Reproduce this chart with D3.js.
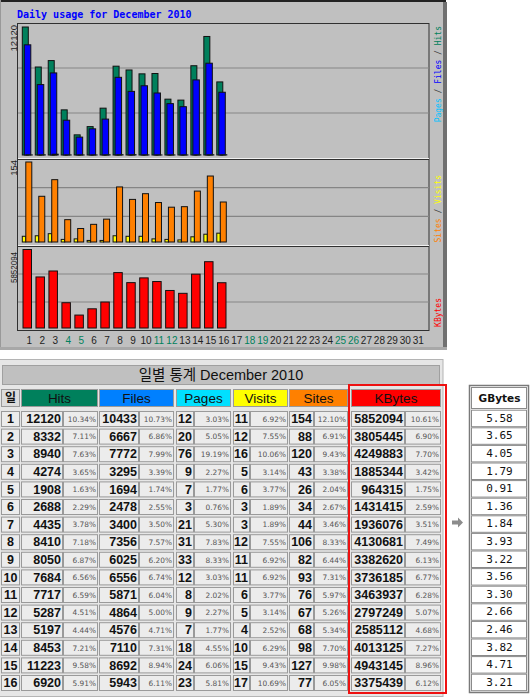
<!DOCTYPE html>
<html><head><meta charset="utf-8">
<script src="https://cdn.jsdelivr.net/npm/d3@7"></script>
<style>body{margin:0;background:#fff}svg{display:block}</style>
</head><body>
<script>
const days = d3.range(1, 17);
const allDays = d3.range(1, 32);
const weekendDays = [4, 5, 11, 12, 18, 19, 25, 26];
const hits = [12120,8332,8940,4274,1908,2688,4435,8410,8050,7684,7717,5287,5197,8453,11223,6920];
const hitsPct = ["10.34%","7.11%","7.63%","3.65%","1.63%","2.29%","3.78%","7.18%","6.87%","6.56%","6.59%","4.51%","4.44%","7.21%","9.58%","5.91%"];
const files = [10433,6667,7772,3295,1694,2478,3400,7356,6025,6556,5871,4864,4576,7110,8692,5943];
const filesPct = ["10.73%","6.86%","7.99%","3.39%","1.74%","2.55%","3.50%","7.57%","6.20%","6.74%","6.04%","5.00%","4.71%","7.31%","8.94%","6.11%"];
const pages = [12,20,76,9,7,3,21,31,33,12,8,9,7,18,24,23];
const pagesPct = ["3.03%","5.05%","19.19%","2.27%","1.77%","0.76%","5.30%","7.83%","8.33%","3.03%","2.02%","2.27%","1.77%","4.55%","6.06%","5.81%"];
const visits = [11,12,16,5,6,3,3,12,11,11,6,5,4,10,15,17];
const visitsPct = ["6.92%","7.55%","10.06%","3.14%","3.77%","1.89%","1.89%","7.55%","6.92%","6.92%","3.77%","3.14%","2.52%","6.29%","9.43%","10.69%"];
const sites = [154,88,120,43,26,34,44,106,82,93,76,67,68,98,127,77];
const sitesPct = ["12.10%","6.91%","9.43%","3.38%","2.04%","2.67%","3.46%","8.33%","6.44%","7.31%","5.97%","5.26%","5.34%","7.70%","9.98%","6.05%"];
const kbytes = [5852094,3805445,4249883,1885344,964315,1431415,1936076,4130681,3382620,3736185,3463937,2797249,2585112,4013125,4943145,3375439];
const kbPct = ["10.61%","6.90%","7.70%","3.42%","1.75%","2.59%","3.51%","7.49%","6.13%","6.77%","6.28%","5.07%","4.68%","7.27%","8.96%","6.12%"];
const gbytes = ["5.58","3.65","4.05","1.79","0.91","1.36","1.84","3.93","3.22","3.56","3.30","2.66","2.46","3.82","4.71","3.21"];
const chartTitle = "Daily usage for December 2010";
const tableTitle = "일별 통계 December 2010";
const dayHeader = "일";
const headers = ["Hits","Files","Pages","Visits","Sites","KBytes"];

const C = {hits:"#00805c", files:"#0000ff", pages:"#00c0ff", visits:"#ffff00", sites:"#ff8000", kb:"#ff0000"};

const svg = d3.select("body").append("svg").attr("width",532).attr("height",698);

// ---------- chart panel ----------
svg.append("rect").attr("x",0).attr("y",0).attr("width",446).attr("height",349).attr("fill","#c0c0c0");
svg.append("line").attr("x1",0).attr("x2",446).attr("y1",1).attr("y2",1).attr("stroke","#222").attr("stroke-width",2);
svg.append("line").attr("x1",0.5).attr("x2",0.5).attr("y1",0).attr("y2",349).attr("stroke","#999");
svg.append("rect").attr("x",443).attr("y",2).attr("width",4).attr("height",347).attr("fill","#707070");
svg.append("rect").attr("x",0).attr("y",347).attr("width",447).attr("height",3).attr("fill","#a8a8a8");

svg.append("text").attr("x",17).attr("y",17.5).text(chartTitle)
  .attr("font-family","DejaVu Sans Mono").attr("font-weight","bold").attr("font-size",10).attr("fill","#0000ff");

const x = d3.scaleLinear().domain([1,31]).range([29.3,418.3]);
const panels = [{y0:23,y1:158},{y0:159,y1:245},{y0:246,y1:330}];
panels.forEach(p=>{
  const h = p.y1-p.y0;
  svg.append("rect").attr("x",17.5).attr("y",p.y0+0.5).attr("width",411.5).attr("height",h)
    .attr("fill","#c0c0c0").attr("stroke","#303030");
  [1,2].forEach(k=>{
    svg.append("line").attr("x1",18).attr("x2",429).attr("y1",p.y0+h*k/3).attr("y2",p.y0+h*k/3)
      .attr("stroke","#858585").attr("stroke-width",1.2);
  });
});
svg.append("line").attr("x1",18).attr("x2",429).attr("y1",158.5).attr("y2",158.5).attr("stroke","#f0f0f0");
svg.append("line").attr("x1",18).attr("x2",429).attr("y1",245.5).attr("y2",245.5).attr("stroke","#f0f0f0");

const yHits = d3.scaleLinear().domain([0,12120]).range([155,27]);
const yVis = d3.scaleLinear().domain([0,154]).range([242,162]);
const yKB = d3.scaleLinear().domain([0,5852094]).range([328,249.5]);

function bars(vals, scale, dx, w, color){
  svg.append("g").selectAll("rect").data(days).join("rect")
    .attr("x",d=>x(d)+dx).attr("y",(d,i)=>scale(vals[i]))
    .attr("width",w).attr("height",(d,i)=>scale(0)-scale(vals[i]))
    .attr("fill",color).attr("stroke","#111").attr("stroke-width",1);
}
bars(hits, yHits, -7, 6, C.hits);
bars(files, yHits, -5, 6.5, C.files);
bars(pages, yHits, -3, 6, C.pages);
bars(visits, yVis, -7, 3.5, C.visits);
bars(sites, yVis, -3.5, 6, C.sites);
bars(kbytes, yKB, -6.3, 8.5, C.kb);

// left scale labels
function vlabel(txt, tx, ty, size, family, anchor){
  return svg.append("text").attr("transform",`translate(${tx},${ty}) rotate(-90)`)
    .attr("text-anchor",anchor).attr("font-family",family).attr("font-size",size).text(txt);
}
vlabel(d3.max(hits), 17, 25, 9.5, "Liberation Sans","end").attr("fill","#222");
vlabel(d3.max(sites), 17, 160, 9.5, "Liberation Sans","end").attr("fill","#222");
vlabel(d3.max(kbytes), 17, 252, 9.5, "Liberation Sans","end").attr("fill","#222").attr("textLength",31).attr("lengthAdjust","spacingAndGlyphs");

// right legends
function rlegend(parts, ty){
  const t = svg.append("text").attr("transform",`translate(441,${ty}) rotate(-90)`)
    .attr("text-anchor","end").attr("font-family","DejaVu Sans Mono").attr("font-size",8);
  parts.forEach(p=>t.append("tspan").text(p[0]).attr("fill",p[1]));
}
rlegend([["Pages",C.pages],[" / ","#404040"],["Files",C.files],[" / ","#404040"],["Hits",C.hits]], 26);
rlegend([["Sites",C.sites],[" / ","#404040"],["Visits",C.visits]], 175);
rlegend([["KBytes",C.kb]], 298);

// x axis day labels
svg.append("g").selectAll("text").data(allDays).join("text")
  .attr("x",d=>x(d)).attr("y",343.5).attr("text-anchor","middle")
  .attr("font-family","Liberation Sans").attr("font-size",10)
  .attr("fill",d=>weekendDays.includes(d)?C.hits:"#222").text(d=>d);

// ---------- table ----------
svg.append("rect").attr("x",-1).attr("y",359.5).attr("width",444).attr("height",337)
  .attr("fill","#e6e6e6").attr("stroke","#b4b4b4");
svg.append("rect").attr("x",2.5).attr("y",365.5).attr("width",437).attr("height",19)
  .attr("fill","#c0c0c0").attr("stroke","#a0a0a0");
svg.append("text").attr("x",221).attr("y",380).attr("text-anchor","middle")
  .attr("font-family","Liberation Sans, Noto Sans CJK KR").attr("font-size",14.5).attr("fill","#111").text(tableTitle);

const cols = [
  {h:[21,97], v:[21,62], p:[63,97], vals:hits, pct:hitsPct, color:C.hits},
  {h:[99,173], v:[99,138], p:[139,173], vals:files, pct:filesPct, color:"#0080ff"},
  {h:[176,230], v:[176,193], p:[194,230], vals:pages, pct:pagesPct, color:"#00e0ff"},
  {h:[233,287], v:[233,249], p:[250,287], vals:visits, pct:visitsPct, color:C.visits},
  {h:[289,347], v:[289,313], p:[314,347], vals:sites, pct:sitesPct, color:C.sites},
  {h:[351,440], v:[351,404], p:[405,440], vals:kbytes, pct:kbPct, color:C.kb}
];

function cell(x0,x1,y0,y1,fill){
  svg.append("rect").attr("x",x0+0.5).attr("y",y0+0.5).attr("width",x1-x0).attr("height",y1-y0)
    .attr("fill",fill).attr("stroke","#9a9a9a");
}
// header row
cell(1,19,389,406,"#dcdcdc");
svg.append("text").attr("x",10.5).attr("y",402).attr("text-anchor","middle")
  .attr("font-family","Noto Sans CJK KR").attr("font-weight","bold").attr("font-size",12).attr("fill","#111").text(dayHeader);
cols.forEach((c,j)=>{
  cell(c.h[0],c.h[1],389,406,c.color);
  svg.append("text").attr("x",(c.h[0]+c.h[1])/2+0.5).attr("y",402.5).attr("text-anchor","middle")
    .attr("font-family","Liberation Sans").attr("font-size",13.5).attr("fill","#111").text(headers[j]);
});

const yRow = d3.scaleLinear().domain([1,16]).range([418.5,682.5]);
days.forEach((d,i)=>{
  const yc = yRow(d);
  cell(1,19,yc-7.5,yc+7.5,"#ececec");
  svg.append("text").attr("x",10.5).attr("y",yc+4.6).attr("text-anchor","middle")
    .attr("font-family","Liberation Sans").attr("font-weight","bold").attr("font-size",12.5).attr("fill","#111").text(d);
  cols.forEach(c=>{
    cell(c.v[0],c.v[1],yc-7.5,yc+7.5,"#ececec");
    cell(c.p[0],c.p[1],yc-7.5,yc+7.5,"#ececec");
    svg.append("text").attr("x",c.v[1]-1).attr("y",yc+4.6).attr("text-anchor","end")
      .attr("font-family","Liberation Sans").attr("font-weight","bold").attr("font-size",12.5).attr("fill","#111").text(c.vals[i]);
    svg.append("text").attr("x",c.p[1]-1).attr("y",yc+3.2).attr("text-anchor","end")
      .attr("font-family","DejaVu Sans").attr("font-size",7.4).attr("fill","#555").text(c.pct[i]);
  });
});

// red highlight box
svg.append("rect").attr("x",349).attr("y",385).attr("width",97).attr("height",308)
  .attr("fill","none").attr("stroke","#ee1111").attr("stroke-width",2);

// arrow
svg.append("path").attr("d","M452,520.5 L458,520.5 L458,517.5 L463,522.5 L458,527.5 L458,524.5 L452,524.5 Z")
  .attr("fill","#8c8c8c");

// GBytes box
svg.append("rect").attr("x",469.5).attr("y",385.5).attr("width",59).attr("height",307)
  .attr("fill","#fff").attr("stroke","#7a7a7a").attr("stroke-width",1.5);
svg.append("rect").attr("x",471.5).attr("y",387.5).attr("width",55).attr("height",21)
  .attr("fill","#fff").attr("stroke","#8a8a8a");
svg.append("text").attr("x",499.5).attr("y",401.5).attr("text-anchor","middle")
  .attr("font-family","DejaVu Sans").attr("font-weight","bold").attr("font-size",10.5).attr("fill","#111").text("GBytes");
days.forEach((d,i)=>{
  const yc = yRow(d)-0.8;
  svg.append("rect").attr("x",471.5).attr("y",yc-8+0.5).attr("width",55).attr("height",16.5)
    .attr("fill","#fff").attr("stroke","#8a8a8a");
  svg.append("text").attr("x",499.5).attr("y",yc+4).attr("text-anchor","middle")
    .attr("font-family","DejaVu Sans Mono").attr("font-size",11).attr("fill","#111").text(gbytes[i]);
});
</script>
</body></html>
